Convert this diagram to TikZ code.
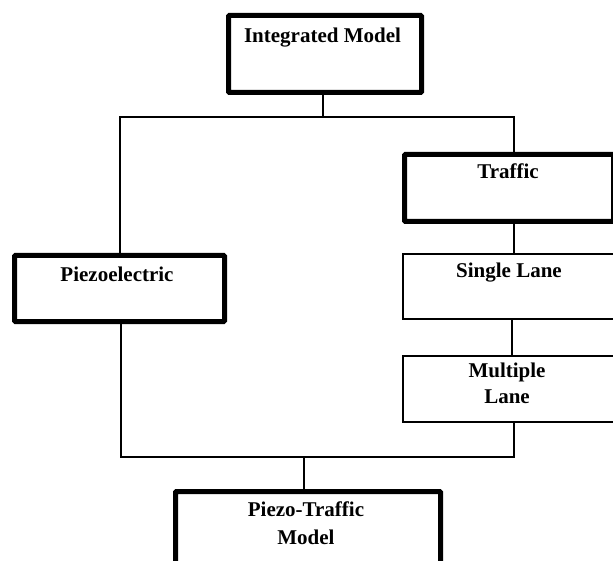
\documentclass[tikz,border=0pt]{standalone}
\usepackage{fontspec}
\setmainfont{Liberation Serif}
\begin{document}
\begin{tikzpicture}[x=1pt,y=-1pt,
  boxthick/.style={draw=black,line width=5pt,inner sep=0pt,anchor=north west,rounded corners=1pt},
  boxthin/.style={draw=black,line width=2pt,inner sep=0pt,anchor=north west},
  lbl/.style={anchor=base,inner sep=0pt,font=\fontsize{21}{26}\selectfont\bfseries},
  wire/.style={draw=black,line width=1.6pt}]
\useasboundingbox (0,0) rectangle (613,561);
\clip (0,0) rectangle (613,561);

% boxes
\node[boxthick,minimum width=193pt,minimum height=77pt] (im) at (226,13) {};
\node[boxthick,minimum width=210pt,minimum height=66pt] (piezo) at (12,253) {};
\node[boxthick,minimum width=209pt,minimum height=67pt] (traffic) at (402,152) {};
\node[boxthin,minimum width=214pt,minimum height=65pt] (sl) at (402,253) {};
\node[boxthin,minimum width=214pt,minimum height=66pt] (ml) at (402,355) {};
\node[boxthick,minimum width=265pt,minimum height=90pt] (ptm) at (173,489) {};

% labels
\node[lbl] (imt) at (322.5,43) {Integrated Model};
\node[lbl] (piezot) at (117,282) {Piezoelectric};
\node[lbl] (traffict) at (508,179) {Traffic};
\node[lbl] (slt) at (509,278) {Single Lane};
\node[lbl] (mlt1) at (507,377) {Multiple};
\node[lbl] (mlt2) at (507,403) {Lane};
\node[lbl] (ptmt1) at (306,516) {Piezo-Traffic};
\node[lbl] (ptmt2) at (306,544) {Model};

% bus junctions
\coordinate (tl) at (120,117);
\coordinate (tr) at (514,117);
\coordinate (bl) at (121,457);
\coordinate (br) at (514,457);

% connectors
\draw[wire] (im.south -| 323,0) -- (tl -| 323,0);
\draw[wire] (piezo.north -| tl) -- (tl) -- (tr) -- (traffic.north -| tr);
\draw[wire] (traffic.south -| tr) -- (sl.north -| tr);
\draw[wire] (sl.south -| 512,0) -- (ml.north -| 512,0);
\draw[wire] (piezo.south -| bl) -- (bl) -- (br) -- (ml.south -| br);
\draw[wire] (bl -| 304,0) -- (ptm.north -| 304,0);
\end{tikzpicture}
\end{document}
